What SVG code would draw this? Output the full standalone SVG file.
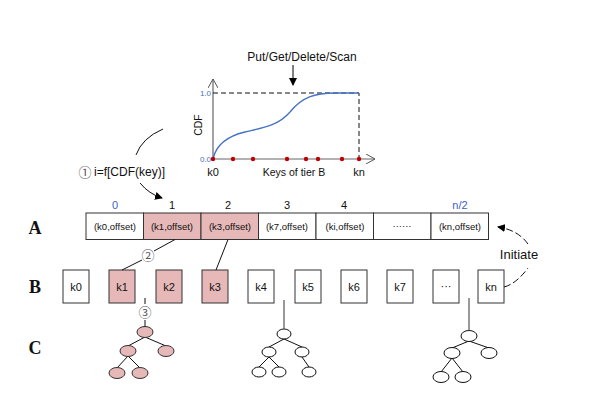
<svg xmlns="http://www.w3.org/2000/svg" width="600" height="403" viewBox="0 0 600 403">
<defs>
<marker id="ah" markerWidth="8" markerHeight="8" refX="7" refY="4" orient="auto" markerUnits="userSpaceOnUse">
<path d="M0,0 L8,4 L0,8 Z" fill="#000"/>
</marker>
<marker id="open" markerWidth="10" markerHeight="10" refX="9" refY="5" orient="auto" markerUnits="userSpaceOnUse">
<path d="M0,0 L9,5 L0,10" fill="none" stroke="#555" stroke-width="1"/>
</marker>
<style>
.t{font-family:"Liberation Sans",Arial,sans-serif;fill:#111}
.lab{font-family:"Liberation Serif","Times New Roman",serif;font-weight:bold;font-size:18px;fill:#111}
.cell{fill:#fff;stroke:#333;stroke-width:1}
.kb{fill:#fff;stroke:#333;stroke-width:1}
.pink{fill:#e6b8b7}
.n{fill:#fff;stroke:#111;stroke-width:1}
.np{fill:#e6b8b7;stroke:#333;stroke-width:1}
.e{stroke:#111;stroke-width:1;fill:none}
.dot{fill:#c00000}
.circ{font-family:"Noto Sans CJK SC","DejaVu Sans",sans-serif;fill:#555}
</style>
</defs>
<rect width="600" height="403" fill="#fff"/>

<!-- chart -->
<g id="chart">
<text class="t" x="302" y="61" font-size="12" text-anchor="middle">Put/Get/Delete/Scan</text>
<line x1="293" y1="65" x2="293" y2="85" stroke="#000" stroke-width="1" marker-end="url(#ah)"/>
<line x1="213" y1="159" x2="213" y2="79" stroke="#666" stroke-width="1.2" marker-end="url(#open)"/>
<line x1="213" y1="159" x2="375" y2="159" stroke="#666" stroke-width="1.2" marker-end="url(#open)"/>
<path d="M213,93 L359,93 L359,159" fill="none" stroke="#111" stroke-width="1" stroke-dasharray="5,3"/>
<path d="M213,159 C216,145 228,136 245,132 C262,128 278,126 290,112 C302,97 315,93 335,93 L359,93" fill="none" stroke="#4472c4" stroke-width="1.3"/>
<circle class="dot" cx="213" cy="159" r="2.2"/>
<circle class="dot" cx="233" cy="159" r="2.2"/>
<circle class="dot" cx="253" cy="159" r="2.2"/>
<circle class="dot" cx="287" cy="159" r="2.2"/>
<circle class="dot" cx="306" cy="159" r="2.2"/>
<circle class="dot" cx="318" cy="159" r="2.2"/>
<circle class="dot" cx="342" cy="159" r="2.2"/>
<circle class="dot" cx="359" cy="159" r="2.2"/>
<text class="t" x="211" y="96" font-size="8" text-anchor="end" style="fill:#4472c4">1.0</text>
<text class="t" x="211" y="162" font-size="8" text-anchor="end" style="fill:#4472c4">0.0</text>
<text class="t" x="202" y="125" font-size="10.5" text-anchor="middle" transform="rotate(-90 202 125)">CDF</text>
<text class="t" x="213" y="176" font-size="11" text-anchor="middle">k0</text>
<text class="t" x="294" y="176" font-size="10.5" text-anchor="middle">Keys of tier B</text>
<text class="t" x="359" y="176" font-size="11" text-anchor="middle">kn</text>
</g>

<g id="formula">
<text class="circ" x="85" y="177" font-size="13" text-anchor="middle">①</text>
<text class="t" x="94" y="176" font-size="12">i=f[CDF(key)]</text>
</g>

<!-- labels -->
<text class="lab" x="35" y="234" text-anchor="middle">A</text>
<text class="lab" x="35" y="293" text-anchor="middle">B</text>
<text class="lab" x="35" y="354" text-anchor="middle">C</text>

<!-- array A -->
<g id="arrayA">
<rect class="cell" x="86" y="213" width="57.5" height="26.5"/>
<rect class="cell pink" x="143.5" y="213" width="57.5" height="26.5"/>
<rect class="cell pink" x="201" y="213" width="57.5" height="26.5"/>
<rect class="cell" x="258.5" y="213" width="57.5" height="26.5"/>
<rect class="cell" x="316" y="213" width="57.5" height="26.5"/>
<rect class="cell" x="373.5" y="213" width="57.5" height="26.5"/>
<rect class="cell" x="431" y="213" width="57.5" height="26.5"/>
<g class="t" font-size="9.5" text-anchor="middle">
<text x="115" y="230">(k0,offset)</text>
<text x="172" y="230">(k1,offset)</text>
<text x="230" y="230">(k3,offset)</text>
<text x="287" y="230">(k7,offset)</text>
<text x="345" y="230">(ki,offset)</text>
<text x="402" y="229">······</text>
<text x="460" y="230">(kn,offset)</text>
</g>
<g class="t" font-size="11" text-anchor="middle">
<text x="115" y="209" style="fill:#4060d0">0</text>
<text x="172" y="209">1</text>
<text x="228" y="209">2</text>
<text x="287" y="209">3</text>
<text x="344" y="209">4</text>
<text x="460" y="209" style="fill:#4060d0">n/2</text>
</g>
</g>

<!-- row B -->
<g id="rowB">
<g id="b0"><rect class="kb" x="63" y="270" width="26" height="33"/><text class="t" x="76" y="291" font-size="11" text-anchor="middle">k0</text></g>
<g id="b1"><rect class="kb pink" x="109" y="270" width="26" height="33"/><text class="t" x="122" y="291" font-size="11" text-anchor="middle">k1</text></g>
<g id="b2"><rect class="kb pink" x="156" y="270" width="26" height="33"/><text class="t" x="169" y="291" font-size="11" text-anchor="middle">k2</text></g>
<g id="b3"><rect class="kb pink" x="202" y="270" width="26" height="33"/><text class="t" x="215" y="291" font-size="11" text-anchor="middle">k3</text></g>
<g id="b4"><rect class="kb" x="248" y="270" width="26" height="33"/><text class="t" x="261" y="291" font-size="11" text-anchor="middle">k4</text></g>
<g id="b5"><rect class="kb" x="295" y="270" width="26" height="33"/><text class="t" x="308" y="291" font-size="11" text-anchor="middle">k5</text></g>
<g id="b6"><rect class="kb" x="341" y="270" width="26" height="33"/><text class="t" x="354" y="291" font-size="11" text-anchor="middle">k6</text></g>
<g id="b7"><rect class="kb" x="387" y="270" width="26" height="33"/><text class="t" x="400" y="291" font-size="11" text-anchor="middle">k7</text></g>
<g id="b8"><rect class="kb" x="433" y="270" width="26" height="33"/><text class="t" x="446" y="290" font-size="11" text-anchor="middle">···</text></g>
<g id="b9"><rect class="kb" x="478" y="270" width="26" height="33"/><text class="t" x="491" y="291" font-size="11" text-anchor="middle">kn</text></g>
</g>

<!-- trees -->
<g id="tree1">
<path class="e" d="M145,337 L128,346 M145,337 L166,346 M128,356 L117,368 M128,356 L140,368"/>
<ellipse class="np" cx="145" cy="332" rx="8" ry="5.5"/>
<ellipse class="np" cx="128" cy="351" rx="8" ry="5.5"/>
<ellipse class="np" cx="166" cy="351" rx="8" ry="5.5"/>
<ellipse class="np" cx="117" cy="373" rx="8" ry="5.5"/>
<ellipse class="np" cx="140" cy="373" rx="8" ry="5.5"/>
</g>
<g id="tree2">
<path class="e" d="M284,339 L269,347 M284,339 L302,347 M269,357 L259,367 M269,357 L279,367 M302,357 L309,367"/>
<ellipse class="n" cx="284" cy="334" rx="7" ry="5"/>
<ellipse class="n" cx="269" cy="352" rx="7" ry="5"/>
<ellipse class="n" cx="302" cy="352" rx="7" ry="5"/>
<ellipse class="n" cx="259" cy="372" rx="7" ry="5"/>
<ellipse class="n" cx="279" cy="372" rx="7" ry="5"/>
<ellipse class="n" cx="309" cy="372" rx="7" ry="5"/>
</g>
<g id="tree3">
<path class="e" d="M469,341 L452,348 M469,341 L489,348 M452,358 L441,372 M452,358 L463,372"/>
<ellipse class="n" cx="469" cy="336" rx="8" ry="5.5"/>
<ellipse class="n" cx="452" cy="353" rx="8" ry="5.5"/>
<ellipse class="n" cx="489" cy="353" rx="8" ry="5.5"/>
<ellipse class="n" cx="441" cy="377" rx="8" ry="5.5"/>
<ellipse class="n" cx="463" cy="377" rx="8" ry="5.5"/>
</g>

<!-- connectors -->
<g id="connectors">
<path d="M163,129 Q142,138 136,155" fill="none" stroke="#111" stroke-width="1"/>
<path d="M140,183 Q149,194 162,198" fill="none" stroke="#111" stroke-width="1" marker-end="url(#ah)"/>
<line x1="175" y1="239.5" x2="154" y2="251" stroke="#111" stroke-width="1"/>
<line x1="142" y1="260" x2="122" y2="270" stroke="#111" stroke-width="1"/>
<text class="circ" x="148" y="260" font-size="13" text-anchor="middle">②</text>
<line x1="228" y1="239.5" x2="216" y2="270" stroke="#111" stroke-width="1"/>
<line x1="145" y1="298" x2="145" y2="304" stroke="#111" stroke-width="1"/>
<text class="circ" x="145" y="317" font-size="13" text-anchor="middle">③</text>
<line x1="145" y1="320" x2="145" y2="326.5" stroke="#111" stroke-width="1"/>
<line x1="284" y1="300" x2="284" y2="329" stroke="#555" stroke-width="1.2"/>
<line x1="469" y1="298" x2="469" y2="330.5" stroke="#555" stroke-width="1.2"/>
<path d="M504,287 Q516,284 528,268" fill="none" stroke="#111" stroke-width="1" stroke-dasharray="7,3"/>
<path d="M528,244 Q518,230 498,227" fill="none" stroke="#111" stroke-width="1" stroke-dasharray="7,3" marker-end="url(#ah)"/>
<text class="t" x="519" y="259" font-size="13" text-anchor="middle">Initiate</text>
</g>
</svg>
